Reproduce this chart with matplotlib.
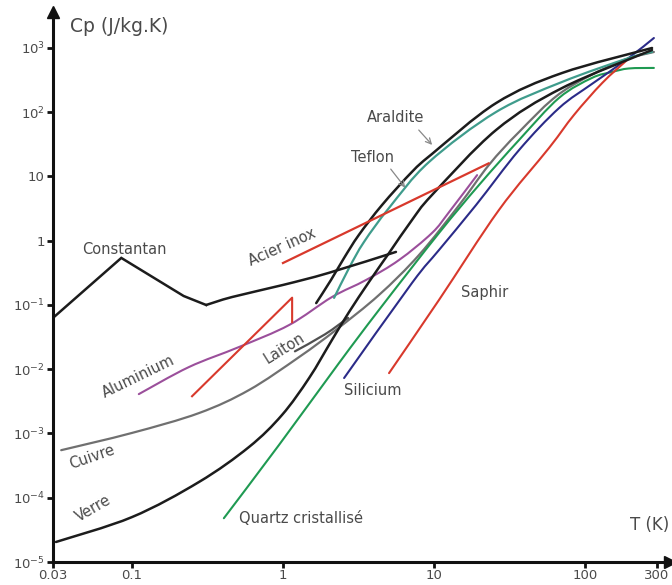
import matplotlib
matplotlib.use("Agg")
import matplotlib.pyplot as plt
from matplotlib.path import Path
from matplotlib.patches import PathPatch
import numpy as np

# ---- data (T in K, Cp in J/kg.K) ----
constantan_T = [0.03, 0.085, 0.22, 0.31, 0.46, 1.0, 2.0, 5.6]
constantan_Cp = [0.063, 0.54, 0.138, 0.10, 0.133, 0.205, 0.315, 0.67]

inox_T = [1.0, 23.0]
inox_Cp = [0.45, 16.0]

alu_T = [0.111, 0.238, 0.512, 1.10, 2.11, 3.55, 5.86, 9.7, 12.6, 19.3]
alu_Cp = [0.0041, 0.0108, 0.0222, 0.0489, 0.133, 0.245, 0.50, 1.32, 2.8, 10.5]

alu_sc_T = [0.25, 1.15, 1.15]
alu_sc_Cp = [0.0038, 0.13, 0.054]

cuivre_T = [0.034, 0.1, 0.278, 0.596, 1.28, 2.24, 4.32, 7.96, 14.7, 23.1, 36.6, 70.5, 168, 286]
cuivre_Cp = [5.5e-4, 1.02e-3, 2.08e-3, 4.75e-3, 0.0155, 0.0408, 0.143, 0.60, 3.6, 15.1, 49.3, 207, 605, 866]

laiton_T = [1.2, 1.9, 2.7]
laiton_Cp = [0.019, 0.035, 0.063]

verre_T = [0.0314, 0.1, 0.278, 0.596, 0.985, 1.49, 2.11, 2.74, 3.71, 5.04, 7.15, 9.7, 25.8, 70.5, 278]
verre_Cp = [2.05e-5, 5.0e-5, 1.76e-4, 6.17e-4, 1.94e-3, 7.3e-3, 0.0285, 0.0778, 0.228, 0.644, 2.1, 5.15, 53, 238, 930]

araldite_T = [1.66, 2.08, 2.54, 3.18, 4.53, 7.15, 9.7, 25.8, 70.5, 278]
araldite_Cp = [0.107, 0.245, 0.54, 1.23, 3.6, 11.8, 22.4, 139, 408, 1000]

teflon_T = [2.18, 2.74, 3.44, 5.04, 9.27, 25.8, 70.5, 195, 278]
teflon_Cp = [0.129, 0.377, 0.957, 3.24, 16.8, 101, 296, 698, 866]

quartz_T = [0.406, 0.94, 2.35, 4.32, 10.8, 19.9, 36.6, 67.3, 111, 151, 195, 286]
quartz_Cp = [4.8e-5, 6.6e-4, 0.0125, 0.0836, 1.32, 7.4, 37, 167, 341, 423, 480, 489]

silicium_T = [2.54, 7.15, 10.8, 19.0, 36.6, 67.3, 111, 187, 286]
silicium_Cp = [7.3e-3, 0.22, 0.718, 3.6, 25.8, 116, 275, 650, 1430]

saphir_T = [5.04, 10.8, 26.9, 57.8, 84.5, 130, 190]
saphir_Cp = [8.7e-3, 0.12, 3.0, 27.8, 90.6, 285, 650]

xticks = [0.03, 0.1, 1, 10, 100, 300]
xticklabels = ["0.03", "0.1", "1", "10", "100", "300"]
yticks = [1e-5, 1e-4, 1e-3, 1e-2, 1e-1, 1, 10, 1e2, 1e3]
yticklabels = [r"$10^{-5}$", r"$10^{-4}$", r"$10^{-3}$", r"$10^{-2}$", r"$10^{-1}$",
               "1", "10", r"$10^{2}$", r"$10^{3}$"]


def smooth_curve(ax, xs, ys, **kw):
    """Draw a smooth Catmull-Rom (as cubic Bezier) curve through the data points, in log space."""
    lx = np.log10(np.asarray(xs, float))
    ly = np.log10(np.asarray(ys, float))
    P = np.column_stack([lx, ly])
    n = len(P)
    verts = [P[0]]
    codes = [Path.MOVETO]
    for i in range(n - 1):
        p0 = P[i - 1] if i > 0 else P[i]
        p1 = P[i]
        p2 = P[i + 1]
        p3 = P[i + 2] if i + 2 < n else P[i + 1]
        c1 = p1 + (p2 - p0) / 6.0
        c2 = p2 - (p3 - p1) / 6.0
        verts += [c1, c2, p2]
        codes += [Path.CURVE4] * 3
    V = 10 ** np.array(verts)
    patch = PathPatch(Path(V, codes), fill=False, capstyle='round', joinstyle='round', **kw)
    ax.add_patch(patch)


# ---- figure ----
plt.rcParams['font.family'] = ['DejaVu Sans']
plt.rcParams['mathtext.fontset'] = 'dejavusans'
fig = plt.figure(figsize=(6.72, 5.85), dpi=100)
ax = fig.add_axes([53/672, 23/585, 617/672, 550/585])
ax.set_xscale('log')
ax.set_yscale('log')
ax.set_xlim(0.03, 10**2.563)
ax.set_ylim(1e-5, 10**3.56)

BLACK = '#1c1c1c'
RED = '#d8392c'
PURPLE = '#9b4f9b'
GREY = '#707070'
TEAL = '#3f9c8c'
GREEN = '#1f9a52'
NAVY = '#2b2b88'
TXT = '#4a4a4a'

smooth_curve(ax, cuivre_T, cuivre_Cp, edgecolor=GREY, lw=1.6)
smooth_curve(ax, laiton_T, laiton_Cp, edgecolor='#505050', lw=1.6)
smooth_curve(ax, alu_T, alu_Cp, edgecolor=PURPLE, lw=1.5)
ax.plot(alu_sc_T, alu_sc_Cp, color=RED, lw=1.5)
ax.plot(inox_T, inox_Cp, color=RED, lw=1.6)
smooth_curve(ax, quartz_T, quartz_Cp, edgecolor=GREEN, lw=1.5)
smooth_curve(ax, silicium_T, silicium_Cp, edgecolor=NAVY, lw=1.5)
smooth_curve(ax, saphir_T, saphir_Cp, edgecolor=RED, lw=1.5)
smooth_curve(ax, teflon_T, teflon_Cp, edgecolor=TEAL, lw=1.6)
ax.plot(constantan_T[:4], constantan_Cp[:4], color=BLACK, lw=1.8, solid_joinstyle='miter')
smooth_curve(ax, constantan_T[3:], constantan_Cp[3:], edgecolor=BLACK, lw=1.8)
smooth_curve(ax, verre_T, verre_Cp, edgecolor=BLACK, lw=1.8)
smooth_curve(ax, araldite_T, araldite_Cp, edgecolor=BLACK, lw=1.8)

# axes styling
for s in ['top', 'right']:
    ax.spines[s].set_visible(False)
for s in ['left', 'bottom']:
    ax.spines[s].set_linewidth(2.2)
    ax.spines[s].set_color('#111111')
ax.set_xticks(xticks)
ax.set_xticklabels(xticklabels)
ax.set_yticks(yticks)
ax.set_yticklabels(yticklabels)
ax.minorticks_off()
ax.tick_params(axis='both', direction='out', length=4, width=2, color='#111111',
               labelsize=9.5, labelcolor=TXT)
ax.tick_params(axis='x', pad=1)
ax.tick_params(axis='y', pad=2)
ax.plot(1, 0, marker='>', color='#111111', markersize=9, transform=ax.transAxes, clip_on=False)
ax.plot(0, 1, marker='^', color='#111111', markersize=9, transform=ax.transAxes, clip_on=False)

fig.text(70/672, 1 - 27/585, "Cp (J/kg.K)", fontsize=13.5, color=TXT, ha='left', va='center')
fig.text(650/672, 1 - 525/585, "T (K)", fontsize=12, color=TXT, ha='center', va='center')

labels = [
    ("Constantan", 0.0885, 0.718, 0),
    ("Acier inox", 0.985, 0.80, 24),
    ("Aluminium", 0.111, 7.57e-3, 26),
    ("Laiton", 1.02, 0.0214, 32),
    ("Cuivre", 0.0543, 4.3e-4, 19),
    ("Verre", 0.0552, 6.7e-5, 30),
    ("Quartz cristallisé", 1.316, 4.67e-5, 0),
    ("Silicium", 3.94, 4.6e-3, 0),
    ("Saphir", 21.8, 0.159, 0),
    ("Teflon", 3.94, 19.4, 0),
    ("Araldite", 5.6, 81.5, 0),
]
for txt, x, y, rot in labels:
    ax.text(x, y, txt, fontsize=10.5, color=TXT, ha='center', va='center',
            rotation=rot, rotation_mode='anchor')

ax.annotate("", xy=(10.0, 28.8), xytext=(7.71, 56.9),
            arrowprops=dict(arrowstyle='->', color='#888888', lw=0.9))
ax.annotate("", xy=(6.62, 6.2), xytext=(5.04, 14.1),
            arrowprops=dict(arrowstyle='->', color='#888888', lw=0.9))

fig.savefig("out.png", dpi=100)
